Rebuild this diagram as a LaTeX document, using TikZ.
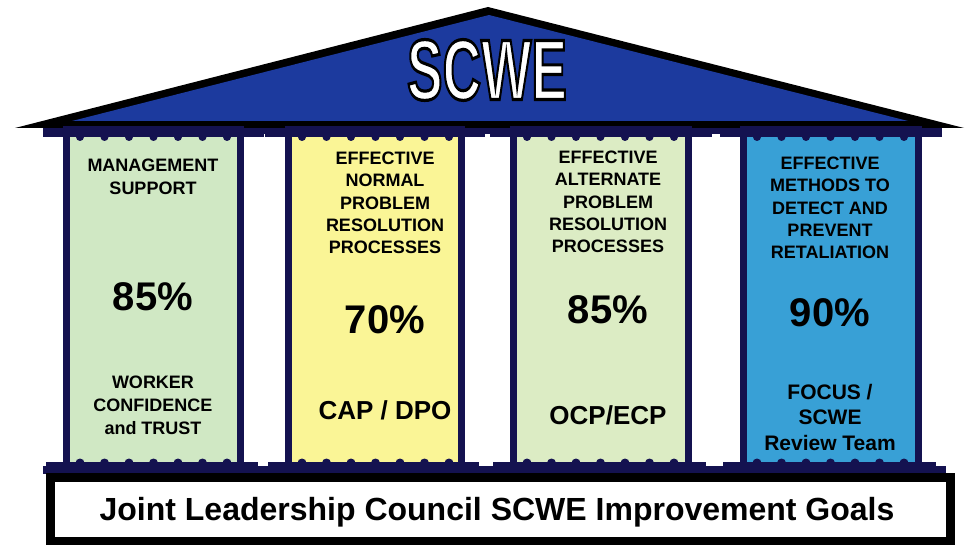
\documentclass[tikz,border=0pt]{standalone}
\usepackage{fontspec}
\setmainfont{Liberation Sans}
\usetikzlibrary{positioning}

\definecolor{roofblue}{RGB}{28,58,158}
\definecolor{navy}{RGB}{20,18,80}
\definecolor{sagegreen}{RGB}{208,232,196}
\definecolor{limegreen}{RGB}{220,236,196}
\definecolor{lemon}{RGB}{250,245,150}
\definecolor{skyblue}{RGB}{56,160,214}

% white letters with a dark rim
\newcommand{\rimtext}[1]{\special{pdf:literal direct 0 0 0 RG 1.6 w 2 Tr}#1\special{pdf:literal direct 0 Tr}}

\begin{document}
\begin{tikzpicture}[x=0.5pt, y=-0.5pt,
    head/.style={align=center, inner sep=0pt, font=\bfseries\fontsize{9}{11.2}\selectfont},
    pct/.style={inner sep=0pt, font=\bfseries\fontsize{20}{24}\selectfont},
    foot/.style={align=center, inner sep=0pt, font=\bfseries\fontsize{13}{15}\selectfont},
    pillar/.style={draw=navy, line width=3.5pt},
    titletxt/.style={inner sep=0pt, text=white, font=\bfseries\fontsize{43}{43}\selectfont}
]
\useasboundingbox (0,0) rectangle (969,545);
\fill[white] (0,0) rectangle (969,545);

% roof
\fill[black]    (15,128) -- (488,7) -- (964,128) -- cycle;
\fill[roofblue] (72,121) -- (489,15) -- (908,121) -- cycle;
\node[titletxt] (title) at (487,70) {\scalebox{0.62}[1]{\rimtext{SCWE}}};

% beams
\fill[navy] (43,128) rectangle (942,134);
\fill[navy] (43,466) rectangle (946,474);

% pillars
\foreach \xl/\xr/\fc in {63/244/sagegreen, 285/465/lemon, 510/692/limegreen, 740/922/skyblue} {
  \draw[pillar, fill=\fc] ({\xl+3.5},130) rectangle ({\xr-3.5},466);
  \fill[navy] ({\xl-20},128) rectangle ({\xr+20},137);
  \fill[navy] ({\xl-17},462) rectangle ({\xr+14},474);
  \foreach \k in {0,...,6} {
    \fill[navy] ({\xl+17+\k*24.5},137) circle (4);
    \fill[navy] ({\xl+17+\k*24.5},463) circle (4.5);
  }
}

% text
\node[head] (h1) at (153,177) {MANAGEMENT\\SUPPORT};
\node[head] (h2) at (385,203) {EFFECTIVE\\NORMAL\\PROBLEM\\RESOLUTION\\PROCESSES};
\node[head] (h3) at (608,202) {EFFECTIVE\\ALTERNATE\\PROBLEM\\RESOLUTION\\PROCESSES};
\node[head] (h4) at (830,208) {EFFECTIVE\\METHODS TO\\DETECT AND\\PREVENT\\RETALIATION};

\node[pct] (p1) at (153,297) {85\%};
\node[pct] (p2) at (385,320) {70\%};
\node[pct] (p3) at (608,310) {85\%};
\node[pct] (p4) at (830,313) {90\%};

\node[foot, font=\bfseries\fontsize{9}{11.5}\selectfont] (f1) at (153,405) {WORKER\\CONFIDENCE\\and TRUST};
\node[foot] (f2) at (385,410) {CAP / DPO};
\node[foot] (f3) at (608,415) {OCP/ECP};
\node[foot, font=\bfseries\fontsize{10.5}{12.75}\selectfont] (f4) at (830,417) {FOCUS /\\SCWE\\Review Team};

% base
\draw[black, line width=4.5pt, fill=white] (50.5,477.5) rectangle (950.5,541.5);
\node[inner sep=0pt, font=\bfseries\fontsize{16}{19}\selectfont] (goals) at (497,512) {Joint Leadership Council SCWE Improvement Goals};
\end{tikzpicture}
\end{document}
